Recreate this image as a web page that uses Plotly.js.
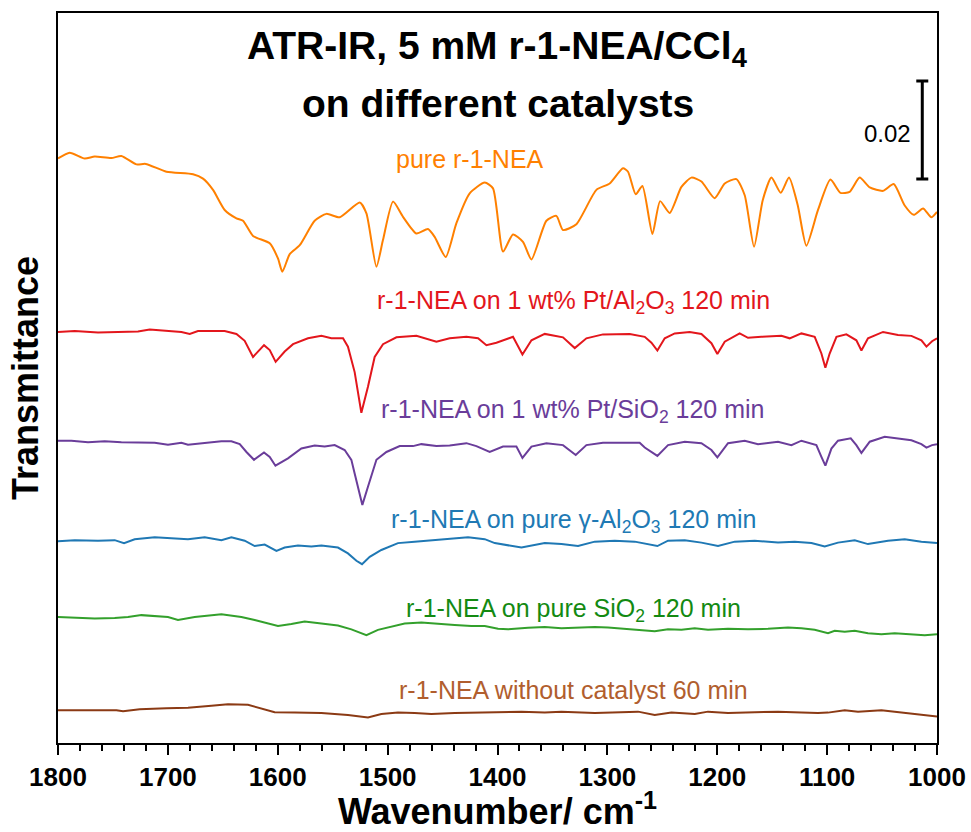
<!DOCTYPE html>
<html>
<head>
<meta charset="utf-8">
<script src="https://cdn.plot.ly/plotly-3.0.1.min.js"></script>
<style>
  html, body { margin: 0; padding: 0; background: #ffffff; }
  #chart { width: 971px; height: 832px; }
</style>
</head>
<body>
<div id="chart"></div>
<script>
// ---- Data (wavenumber in cm^-1, offset transmittance in arbitrary units) ----
const pureNEA_wn = [1800,1789.4,1775.7,1766.6,1751.4,1742.3,1728.6,1720.2,1701.3,1677.1,
  1668,1658.9,1648.3,1637.6,1631.6,1622.5,1607.3,1599.8,1595.8,1589.1,
  1580,1566.4,1555.7,1543.6,1525.4,1519.3,1510.2,1504.2,1495.1,1486,
  1473.8,1463.3,1457.2,1447.1,1437.4,1425.3,1411.6,1404.1,1395,1385.9,
  1376.8,1369.1,1355.5,1346.4,1340.4,1328.2,1310,1297.9,1285.8,1281.2,
  1274.2,1268.1,1259,1252,1243.3,1232.6,1223.5,1214.4,1202.3,1193.2,
  1182.6,1175,1166.5,1158.6,1150.7,1142.2,1134.7,1126.8,1118.9,1108.3,
  1097,1087.9,1079.5,1070.4,1061.2,1049.1,1039.4,1029.4,1021.2,1012.7,
  1005.1,1000];
const pureNEA_T = [0.1193,0.1205,0.1193,0.1197,0.1194,0.1198,0.1181,0.1182,0.1166,0.1161,
  0.1152,0.1129,0.1088,0.1071,0.1066,0.1035,0.1020,0.0989,0.0962,0.0998,
  0.1016,0.1066,0.1080,0.1073,0.1103,0.1081,0.0972,0.1027,0.1105,0.1074,
  0.1040,0.1049,0.1033,0.0992,0.1061,0.1122,0.1144,0.1132,0.1003,0.1038,
  0.1023,0.0987,0.1066,0.1076,0.1047,0.1059,0.1129,0.1142,0.1173,0.1166,
  0.1120,0.1137,0.1039,0.1106,0.1082,0.1135,0.1154,0.1146,0.1112,0.1142,
  0.1151,0.1118,0.1013,0.1108,0.1154,0.1123,0.1154,0.1098,0.1015,0.1088,
  0.1150,0.1123,0.1125,0.1154,0.1134,0.1127,0.1141,0.1097,0.1078,0.1091,
  0.1073,0.1084];

const ptAl_wn = [1800,1784.8,1763.6,1742.3,1727.2,1716.5,1702.9,1687.7,1680.1,1672.6,
  1648.3,1637.6,1630.1,1622.5,1612.5,1607.3,1601.9,1593.7,1586.1,1572.5,
  1560.3,1551.2,1540.6,1536.1,1530,1523.9,1517.9,1511.8,1504.2,1492,
  1473.8,1455.6,1443.5,1428.3,1417.7,1410.1,1401,1385.9,1377.3,1369.1,
  1357,1340.4,1329.7,1319.1,1304,1279.7,1266,1259.9,1254.5,1247.8,
  1238.7,1225.1,1214.4,1205.3,1199.9,1193.2,1179.6,1172,1159.8,1141.6,
  1134.1,1123.4,1111.3,1105.2,1101.6,1097.7,1091.5,1082.5,1073.4,1068.8,
  1062.8,1049.1,1035.5,1023.3,1014.2,1009.6,1004.5,1000];
const ptAl_T = [0.0839,0.0841,0.0838,0.0839,0.0840,0.0844,0.0841,0.0839,0.0835,0.0841,
  0.0841,0.0835,0.0821,0.0788,0.0812,0.0802,0.0778,0.0799,0.0814,0.0826,
  0.0831,0.0826,0.0826,0.0809,0.0757,0.0674,0.0727,0.0788,0.0814,0.0828,
  0.0831,0.0819,0.0826,0.0829,0.0826,0.0812,0.0817,0.0829,0.0793,0.0822,
  0.0835,0.0828,0.0806,0.0826,0.0834,0.0835,0.0829,0.0817,0.0801,0.0826,
  0.0836,0.0839,0.0835,0.0816,0.0794,0.0819,0.0836,0.0827,0.0829,0.0831,
  0.0826,0.0836,0.0829,0.0795,0.0766,0.0795,0.0829,0.0834,0.0822,0.0801,
  0.0826,0.0839,0.0833,0.0831,0.0822,0.0809,0.0820,0.0826];

const ptSi_wn = [1800,1787.8,1772.7,1757.5,1742.3,1727.2,1712,1699.9,1687.7,1681.7,
  1666.5,1651.3,1642.2,1634.6,1628.5,1621.6,1612.5,1607.3,1602.1,1590.7,
  1578.5,1566.4,1557.3,1548.2,1539.1,1533,1530,1523,1517.9,1510.2,
  1501.1,1489,1476.9,1469.3,1455.6,1443.5,1428.3,1419.2,1407.1,1395,
  1382.8,1377.3,1369.1,1355.5,1340.4,1328.8,1319.1,1304,1282.7,1270.6,
  1266,1254.5,1244.8,1229.6,1214.4,1205.3,1199.9,1190.2,1175,1162.9,
  1144.7,1132.5,1123.4,1109.8,1105.2,1101.6,1096.1,1090.1,1078.5,1073.4,
  1068.8,1061.2,1047.6,1035.5,1023.3,1014.2,1009.6,1004.5,1000];
const ptSi_T = [0.0617,0.0617,0.0614,0.0616,0.0614,0.0614,0.0613,0.0609,0.0613,0.0609,
  0.0613,0.0616,0.0616,0.0610,0.0594,0.0578,0.0593,0.0584,0.0566,0.0581,
  0.0601,0.0607,0.0605,0.0608,0.0598,0.0578,0.0550,0.0486,0.0523,0.0578,
  0.0594,0.0606,0.0606,0.0610,0.0606,0.0607,0.0612,0.0606,0.0594,0.0605,
  0.0605,0.0582,0.0605,0.0612,0.0608,0.0588,0.0608,0.0613,0.0613,0.0613,
  0.0603,0.0586,0.0608,0.0615,0.0612,0.0598,0.0583,0.0612,0.0617,0.0610,
  0.0615,0.0608,0.0617,0.0608,0.0584,0.0566,0.0601,0.0617,0.0622,0.0608,
  0.0592,0.0615,0.0625,0.0622,0.0618,0.0610,0.0603,0.0608,0.0610];

const gAl_wn = [1800,1784.8,1763.6,1748.4,1739.9,1730.2,1712,1693.8,1681.7,1666.5,
  1651.3,1642.2,1630.1,1621,1611.9,1601.2,1593.7,1581.6,1569.4,1560.3,
  1545.2,1536.1,1528.4,1523.3,1516.3,1505.7,1490.6,1475.4,1460.2,1442,
  1426.8,1411.6,1402.5,1378.2,1357,1341.8,1326.7,1311.5,1293.3,1275.1,
  1254.5,1244.8,1229.6,1214.4,1199.3,1184.1,1165.9,1144.7,1129.5,1114.3,
  1102.2,1090.1,1074.9,1062.8,1044.6,1029.4,1014.2,1000];
const gAl_T = [0.0412,0.0414,0.0413,0.0414,0.0408,0.0416,0.0420,0.0418,0.0416,0.0420,
  0.0414,0.0420,0.0413,0.0402,0.0405,0.0392,0.0399,0.0403,0.0401,0.0403,
  0.0399,0.0387,0.0372,0.0365,0.0380,0.0394,0.0408,0.0411,0.0414,0.0418,
  0.0420,0.0416,0.0408,0.0399,0.0408,0.0406,0.0402,0.0411,0.0413,0.0411,
  0.0402,0.0413,0.0414,0.0409,0.0402,0.0411,0.0413,0.0409,0.0411,0.0408,
  0.0401,0.0409,0.0414,0.0406,0.0413,0.0416,0.0411,0.0408];

const si_wn = [1800,1784.8,1766.6,1748.4,1736.3,1724.1,1709,1699.9,1690.8,1675.6,
  1651.3,1639.2,1633.1,1621,1608.9,1599.8,1587.6,1575.5,1560.3,1545.2,
  1533,1519.3,1508.8,1496.6,1484.5,1469.3,1454.2,1439,1423.8,1411.6,
  1399.5,1390.4,1372.2,1357,1341.8,1326.7,1311.5,1299.4,1287.2,1269,
  1256.9,1244.8,1232.6,1220.5,1208.4,1190.2,1172,1153.8,1135.6,1123.4,
  1111.3,1099.2,1093.1,1084,1074.9,1062.8,1050.6,1038.5,1023.3,1011.2,1000];
const si_T = [0.0257,0.0255,0.0254,0.0255,0.0257,0.0261,0.0259,0.0257,0.0251,0.0257,
  0.0263,0.0259,0.0257,0.0251,0.0244,0.0239,0.0243,0.0248,0.0244,0.0240,
  0.0232,0.0220,0.0231,0.0237,0.0244,0.0246,0.0243,0.0241,0.0239,0.0239,
  0.0233,0.0232,0.0235,0.0237,0.0234,0.0236,0.0237,0.0236,0.0234,0.0231,
  0.0228,0.0232,0.0231,0.0234,0.0231,0.0233,0.0232,0.0233,0.0236,0.0234,
  0.0231,0.0224,0.0229,0.0227,0.0229,0.0224,0.0222,0.0224,0.0221,0.0220,0.0222];

const noCat_wn = [1800,1772.7,1746.8,1740.8,1725.6,1701.3,1681.7,1660.4,1645.3,1627.1,
  1614.9,1602.8,1584.6,1560.3,1536.1,1517.9,1505.7,1490.6,1475.4,1460.2,
  1439,1420.7,1399.5,1378.2,1357,1341.8,1311.5,1296.3,1272.1,1256.9,
  1241.7,1220.5,1208.4,1190.2,1165.9,1144.7,1123.4,1108.3,1099.2,1084,
  1071.9,1050.6,1038.5,1020.3,1000];
const noCat_T = [0.0067,0.0067,0.0067,0.0065,0.0069,0.0071,0.0072,0.0076,0.0079,0.0078,
  0.0071,0.0063,0.0062,0.0061,0.0057,0.0052,0.0059,0.0062,0.0061,0.0059,
  0.0061,0.0062,0.0062,0.0064,0.0062,0.0064,0.0061,0.0062,0.0064,0.0057,
  0.0062,0.0059,0.0064,0.0061,0.0062,0.0064,0.0062,0.0061,0.0062,0.0067,
  0.0064,0.0067,0.0064,0.0059,0.0054];

// scale bar (0.02 transmittance units)
const scaleBarWn = [1013.4];
const scaleBarCenter = [0.1251];
const scaleBarLength = 0.02;

const seriesNames = [
  'pure r-1-NEA',
  'r-1-NEA on 1 wt% Pt/Al<sub>2</sub>O<sub>3</sub> 120 min',
  'r-1-NEA on 1 wt% Pt/SiO<sub>2</sub> 120 min',
  'r-1-NEA on pure γ-Al<sub>2</sub>O<sub>3</sub> 120 min',
  'r-1-NEA on pure SiO<sub>2</sub> 120 min',
  'r-1-NEA without catalyst 60 min'
];
const xTickVals = [1800,1700,1600,1500,1400,1300,1200,1100,1000];

// ---- styling ----
const FONT = 'Liberation Sans, Arial, Helvetica, sans-serif';
const lineColors = ['#FF8000', '#E3161C', '#6A3D9A', '#1F78B4', '#33A02C', '#8B3A14'];
const textColors = ['#FF8000', '#E3161C', '#6A3D9A', '#2079B4', '#138A12', '#B15E2E'];

const xs = [pureNEA_wn, ptAl_wn, ptSi_wn, gAl_wn, si_wn, noCat_wn];
const ys = [pureNEA_T, ptAl_T, ptSi_T, gAl_T, si_T, noCat_T];

const traces = xs.map((x, i) => ({
  type: 'scatter',
  mode: 'lines',
  x: x,
  y: ys[i],
  name: seriesNames[i],
  line: { color: lineColors[i], width: 2, shape: i === 0 ? 'spline' : 'linear', smoothing: 0.6 },
  hoverinfo: 'x+y+name'
}));

traces.push({
  type: 'scatter',
  mode: 'markers',
  x: scaleBarWn,
  y: scaleBarCenter,
  marker: { size: 1, color: 'rgba(0,0,0,0)' },
  error_y: { type: 'constant', value: scaleBarLength / 2, color: '#000000', thickness: 3, width: 6 },
  hoverinfo: 'skip',
  showlegend: false
});

// label positions (x in wavenumber, y in data units)
const labelPos = [
  [1425.3, 0.1193],
  [1331.1, 0.0901],
  [1331.1, 0.0677],
  [1331.1, 0.0454],
  [1331.1, 0.0272],
  [1331.1, 0.0109]
];

const annotations = seriesNames.map((t, i) => ({
  x: labelPos[i][0], y: labelPos[i][1], xref: 'x', yref: 'y',
  text: t, showarrow: false, xanchor: 'center', yanchor: 'middle',
  font: { family: FONT, size: 25, color: textColors[i] }
}));

annotations.push({
  x: 0.5, y: 0.951, xref: 'paper', yref: 'paper',
  text: '<b>ATR-IR, 5 mM r-1-NEA/CCl<sub>4</sub></b>', showarrow: false,
  xanchor: 'center', yanchor: 'middle',
  font: { family: FONT, size: 39, color: '#000000' }
});
annotations.push({
  x: 0.5, y: 0.8756, xref: 'paper', yref: 'paper',
  text: '<b>on different catalysts</b>', showarrow: false,
  xanchor: 'center', yanchor: 'middle',
  font: { family: FONT, size: 39, color: '#000000' }
});
annotations.push({
  x: 1022, y: 0.1244, xref: 'x', yref: 'y',
  text: '0.02', showarrow: false, xanchor: 'right', yanchor: 'middle',
  font: { family: FONT, size: 24, color: '#000000' }
});

const layout = {
  width: 971,
  height: 832,
  margin: { l: 58, r: 34, t: 13, b: 89, pad: 0 },
  paper_bgcolor: '#ffffff',
  plot_bgcolor: '#ffffff',
  showlegend: false,
  font: { family: FONT, color: '#000000' },
  xaxis: {
    range: [1800, 1000],
    tickvals: xTickVals,
    ticktext: xTickVals.map(String),
    ticks: 'outside', ticklen: 10, tickwidth: 2, tickcolor: '#000000',
    showline: true, linewidth: 2, linecolor: '#000000', mirror: true,
    showgrid: false, zeroline: false,
    tickfont: { family: FONT, size: 26, color: '#000000', weight: 'bold' },
    minor: { dtick: 20, tick0: 1000, ticks: 'outside', ticklen: 6, tickwidth: 2, tickcolor: '#000000', showgrid: false },
    title: { text: '<b>Wavenumber/ cm<sup>-1</sup></b>', font: { family: FONT, size: 36, color: '#000000' }, standoff: 4 }
  },
  yaxis: {
    range: [0, 0.149],
    showticklabels: false, ticks: '',
    showline: true, linewidth: 2, linecolor: '#000000', mirror: true,
    showgrid: false, zeroline: false,
    title: { text: '<b>Transmittance</b>', font: { family: FONT, size: 36, color: '#000000' }, standoff: 6 }
  },
  annotations: annotations
};

Plotly.newPlot('chart', traces, layout, { displayModeBar: false, staticPlot: true });
</script>
</body>
</html>
